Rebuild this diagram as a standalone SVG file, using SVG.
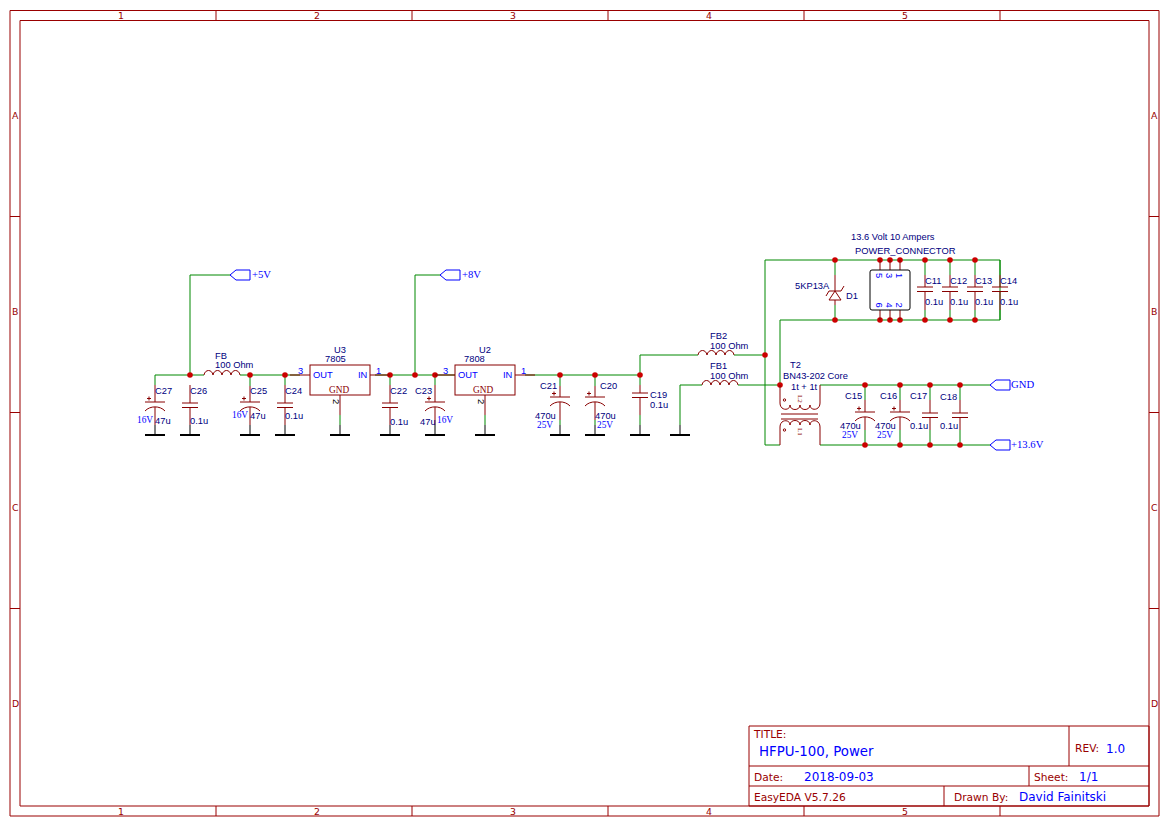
<svg xmlns="http://www.w3.org/2000/svg" width="1169" height="826" viewBox="0 0 1169 826">
<style>
text{font-family:"Liberation Sans",Arial,sans-serif;font-size:9.33px;fill:#000080}
.f{font-family:"DejaVu Sans",Verdana,sans-serif;font-size:9.33px;fill:#990000}
.tr{font-family:"DejaVu Sans",Verdana,sans-serif;font-size:10.67px;fill:#990000}
.tb{font-family:"DejaVu Sans",Verdana,sans-serif;font-size:12px;fill:#0000ff}
.ser{font-family:"Liberation Serif","Times New Roman",serif;fill:#0000ff}
.net{font-family:"Liberation Serif","Times New Roman",serif;font-size:10.67px;fill:#0000ff}
.pn{fill:#0000ff}
.gn{font-family:"Liberation Serif","Times New Roman",serif;fill:#8b0000}
.frame{fill:none;stroke:#990000;stroke-width:1}
.w{fill:none;stroke:#008800;stroke-width:1}
.p{fill:none;stroke:#880000;stroke-width:1}
.g{fill:none;stroke:#000;stroke-width:1}
.b{fill:none;stroke:#000;stroke-width:2}
.flag{fill:none;stroke:#0000ff;stroke-width:1}
.box{fill:#fff;stroke:#880000;stroke-width:1}
.j{fill:#cc0000}
.lt{font-family:"Liberation Serif","Times New Roman",serif;font-size:7px;fill:#8b0000}
</style>
<defs>
<g id="np"><path class="p" d="M-8 0H8M-8 4.500H8"/></g>
<g id="pol"><path class="p" d="M-10 0H10M-10 9C-5 3.500 5 3.500 10 9M-8 -3.500H-4M-6 -5.500V-1.500"/></g>
<g id="gnd"><path class="g" d="M0 -10V0"/><path class="b" d="M-10 0H10"/></g>
<g id="ind"><path class="p" d="M0 0C1 -6 8 -6 9 0C10 -6 17 -6 18 0C19 -6 26 -6 27 0C28 -6 35 -6 36 0"/></g>
<circle id="dot" class="j" r="2.800"/>
<path id="flag" class="flag" d="M0 0L6 -5H20V5H6Z"/>
</defs>
<rect width="1169" height="826" fill="#fff"/>

<g id="frame">
<path class="frame" d="M10 10.500H1159V816H10ZM20 20.500H1149V806H20Z"/>
<path class="frame" d="M216 10.500V20.500M412 10.500V20.500M608 10.500V20.500M804 10.500V20.500M1000 10.500V20.500M216 806V816M412 806V816M608 806V816M804 806V816M1000 806V816M10 216.500H20M10 412.500H20M10 608.500H20M1149 216.500H1159M1149 412.500H1159M1149 608.500H1159"/>
<text class="f" x="118" y="19">1</text><text class="f" x="314" y="19">2</text><text class="f" x="510" y="19">3</text><text class="f" x="706" y="19">4</text><text class="f" x="902" y="19">5</text>
<text class="f" x="118" y="815">1</text><text class="f" x="314" y="815">2</text><text class="f" x="510" y="815">3</text><text class="f" x="706" y="815">4</text><text class="f" x="902" y="815">5</text>
<text class="f" x="12" y="119">A</text><text class="f" x="12" y="315">B</text><text class="f" x="12" y="511">C</text><text class="f" x="12" y="707">D</text>
<text class="f" x="1151" y="119">A</text><text class="f" x="1151" y="315">B</text><text class="f" x="1151" y="511">C</text><text class="f" x="1151" y="707">D</text>
</g>

<g id="title-block">
<path class="frame" d="M749 726H1149V806H749ZM749 766H1149M749 786H1149M1069 726V766M1029 766V786M944 786V806"/>
<text class="tr" x="754" y="738">TITLE:</text>
<text x="759" y="756" style="font-family:'DejaVu Sans',sans-serif;font-size:13.33px;fill:#0000ff">HFPU-100, Power</text>
<text class="tr" x="1075" y="752">REV:</text><text x="1106" y="753" style="font-family:'DejaVu Sans',sans-serif;font-size:12px;fill:#0000ff">1.0</text>
<text class="tr" x="754" y="781">Date:</text><text class="tb" x="804" y="781">2018-09-03</text>
<text class="tr" x="1034" y="781">Sheet:</text><text class="tb" x="1079" y="781">1/1</text>
<text class="tr" x="754" y="801">EasyEDA V5.7.26</text>
<text class="tr" x="954" y="801">Drawn By:</text><text class="tb" x="1019" y="801">David Fainitski</text>
</g>

<g id="connectors">
<path class="w" d="M155 385V375H204M240 375H300M190 375V275H230"/>
<path class="w" d="M375 375H455M415 375V275H440M525 375H640V355H698M734 355H765M640 375V385M560 375V386M595 375V386M390 375V385M435 375V385M250 375V386M285 375V385"/>
<path class="w" d="M680 425V385H702M738 385H780"/>
<path class="w" d="M765 445V260H1000V320H780V385M765 445H780M820 385H990M820 445H990"/>
<path class="w" d="M835 260V275M835 305V320M925 260V275M950 260V275M975 260V275M1000 260V275M925 310V320M950 310V320M975 310V320M1000 310V320"/>
<path class="w" d="M865 385V400M900 385V400M930 385V400M960 385V400M865 430V445M900 430V445M930 430V445M960 430V445"/>
<path class="w" d="M340 415V425M485 415V425M560 420V425M595 420V425M640 415V425"/>
<use href="#dot" x="190" y="375"/><use href="#dot" x="250" y="375"/><use href="#dot" x="285" y="375"/>
<use href="#dot" x="390" y="375"/><use href="#dot" x="415" y="375"/><use href="#dot" x="435" y="375"/>
<use href="#dot" x="560" y="375"/><use href="#dot" x="595" y="375"/><use href="#dot" x="640" y="375"/>
<use href="#dot" x="765" y="355"/><use href="#dot" x="780" y="385"/>
<use href="#dot" x="835" y="260"/><use href="#dot" x="880" y="260"/><use href="#dot" x="890" y="260"/><use href="#dot" x="900" y="260"/><use href="#dot" x="925" y="260"/><use href="#dot" x="950" y="260"/><use href="#dot" x="975" y="260"/>
<use href="#dot" x="835" y="320"/><use href="#dot" x="880" y="320"/><use href="#dot" x="890" y="320"/><use href="#dot" x="900" y="320"/><use href="#dot" x="925" y="320"/><use href="#dot" x="950" y="320"/><use href="#dot" x="975" y="320"/>
<use href="#dot" x="865" y="385"/><use href="#dot" x="900" y="385"/><use href="#dot" x="930" y="385"/><use href="#dot" x="960" y="385"/>
<use href="#dot" x="865" y="445"/><use href="#dot" x="900" y="445"/><use href="#dot" x="930" y="445"/><use href="#dot" x="960" y="445"/>
</g>

<g id="net-5v"><use href="#flag" x="230" y="275"/><text class="net" x="252" y="278">+5V</text></g>
<g id="net-8v"><use href="#flag" x="440" y="275"/><text class="net" x="462" y="278">+8V</text></g>
<g id="net-gnd"><use href="#flag" x="990" y="385"/><text class="net" x="1011" y="388">GND</text></g>
<g id="net-13v6"><use href="#flag" x="990" y="445"/><text class="net" x="1011" y="448">+13.6V</text></g>

<g id="gnd-symbols">
<use href="#gnd" x="155" y="435"/><use href="#gnd" x="190" y="435"/><use href="#gnd" x="250" y="435"/><use href="#gnd" x="285" y="435"/><use href="#gnd" x="340" y="435"/><use href="#gnd" x="390" y="435"/><use href="#gnd" x="435" y="435"/><use href="#gnd" x="485" y="435"/><use href="#gnd" x="560" y="435"/><use href="#gnd" x="595" y="435"/><use href="#gnd" x="640" y="435"/><use href="#gnd" x="680" y="435"/>
</g>

<g id="C27"><path class="p" d="M155 385V402M155 407V425"/><use href="#pol" x="155" y="402"/><text x="155" y="394">C27</text><text x="155" y="424">47u</text><text class="ser" x="137" y="423">16V</text></g>
<g id="C26"><path class="p" d="M190 385V403M190 407V425"/><use href="#np" x="190" y="403"/><text x="190" y="394">C26</text><text x="190" y="424">0.1u</text></g>
<g id="FB"><use href="#ind" x="204" y="375"/><text x="215" y="359">FB</text><text x="215" y="368">100 Ohm</text></g>
<g id="C25"><path class="p" d="M250 386V402M250 407V425"/><use href="#pol" x="250" y="402"/><text x="250" y="394">C25</text><text x="250" y="419">47u</text><text class="ser" x="232" y="418">16V</text></g>
<g id="C24"><path class="p" d="M285 385V403M285 407V425"/><use href="#np" x="285" y="403"/><text x="285" y="394">C24</text><text x="285" y="419">0.1u</text></g>
<g id="U3"><path class="p" d="M290 375H310M370 375H390M340 395V415"/><rect class="box" x="310" y="365" width="60" height="30"/><text x="334" y="353">U3</text><text x="325" y="362">7805</text><text class="pn" x="313" y="378">OUT</text><text class="pn" x="358" y="378">IN</text><text class="gn" x="329" y="393">GND</text><text class="pn" x="298" y="374">3</text><text class="pn" x="376" y="374">1</text><text transform="translate(333 399) rotate(90)" style="fill:#000">2</text></g>
<g id="C22"><path class="p" d="M390 385V403M390 407V425"/><use href="#np" x="390" y="403"/><text x="390" y="394">C22</text><text x="390" y="425">0.1u</text></g>
<g id="C23"><path class="p" d="M435 385V402M435 407V425"/><use href="#pol" x="435" y="402"/><text x="415" y="394">C23</text><text x="420" y="425">47u</text><text class="ser" x="437" y="423">16V</text></g>
<g id="U2"><path class="p" d="M435 375H455M515 375H535M485 395V415"/><rect class="box" x="455" y="365" width="60" height="30"/><text x="479" y="353">U2</text><text x="464" y="362">7808</text><text class="pn" x="458" y="378">OUT</text><text class="pn" x="503" y="378">IN</text><text class="gn" x="473" y="393">GND</text><text class="pn" x="443" y="374">3</text><text class="pn" x="521" y="374">1</text><text transform="translate(478 399) rotate(90)" style="fill:#000">2</text></g>
<g id="C21"><path class="p" d="M560 386V397M560 402V420"/><use href="#pol" x="560" y="397"/><text x="540" y="389">C21</text><text x="535" y="419">470u</text><text class="ser" x="537" y="428">25V</text></g>
<g id="C20"><path class="p" d="M595 386V397M595 402V420"/><use href="#pol" x="595" y="397"/><text x="600" y="389">C20</text><text x="595" y="419">470u</text><text class="ser" x="597" y="428">25V</text></g>
<g id="C19"><path class="p" d="M640 385V393M640 397V415"/><use href="#np" x="640" y="393"/><text x="650" y="398">C19</text><text x="650" y="408">0.1u</text></g>
<g id="FB2"><use href="#ind" x="698" y="355"/><text x="710" y="339">FB2</text><text x="710" y="349">100 Ohm</text></g>
<g id="FB1"><use href="#ind" x="702" y="385"/><text x="710" y="369">FB1</text><text x="710" y="379">100 Ohm</text></g>
<g id="T2">
<path class="p" d="M780 385V403C780 411 790 411 790 405C790 411 800 411 800 405C800 411 810 411 810 405C810 411 820 411 820 403V385"/>
<path class="p" d="M781 414H818M781 419H818"/>
<path class="p" d="M780 445V427C780 419 790 419 790 425C790 419 800 419 800 425C800 419 810 419 810 425C810 419 820 419 820 427V445"/>
<circle class="p" cx="784.500" cy="400" r="1.200"/><circle class="p" cx="784.500" cy="430" r="1.200"/>
<text class="lt" transform="translate(798 395) rotate(90)">L2</text>
<text class="lt" transform="translate(798 428) rotate(90)">L1</text>
<text x="790" y="368">T2</text><text x="783" y="379">BN43-202 Core</text><text x="791" y="390">1t + 1t</text>
</g>
<g id="D1"><path class="p" d="M835 275V291M835 300V305M829 300H841L835 291ZM826 296L829 291H841L844 286"/><text x="795" y="289">5KP13A</text><text x="846" y="299">D1</text></g>
<g id="POWER_CONNECTOR"><path class="p" d="M880 260V270M890 260V270M900 260V270M880 310V320M890 310V320M900 310V320"/><rect x="870" y="270" width="40" height="40" rx="2" fill="#fff" stroke="#000"/>
<text class="pn" transform="translate(876 273) rotate(90)">5</text><text class="pn" transform="translate(886 273) rotate(90)">3</text><text class="pn" transform="translate(896 273) rotate(90)">1</text>
<text class="pn" transform="translate(876 302.500) rotate(90)">6</text><text class="pn" transform="translate(886 302.500) rotate(90)">4</text><text class="pn" transform="translate(896 302.500) rotate(90)">2</text>
<text x="851" y="240">13.6 Volt 10 Ampers</text><text x="855" y="254">POWER_CONNECTOR</text></g>
<g id="C11"><path class="p" d="M925 275V287M925 292V310"/><use href="#np" x="925" y="287"/><text x="925" y="284">C11</text><text x="925" y="305">0.1u</text></g>
<g id="C12"><path class="p" d="M950 275V287M950 292V310"/><use href="#np" x="950" y="287"/><text x="950" y="284">C12</text><text x="950" y="305">0.1u</text></g>
<g id="C13"><path class="p" d="M975 275V287M975 292V310"/><use href="#np" x="975" y="287"/><text x="975" y="284">C13</text><text x="975" y="305">0.1u</text></g>
<g id="C14"><path class="p" d="M1000 275V287M1000 292V310"/><use href="#np" x="1000" y="287"/><text x="1000" y="284">C14</text><text x="1000" y="305">0.1u</text></g>
<g id="C15"><path class="p" d="M865 400V412M865 417V430"/><use href="#pol" x="865" y="412"/><text x="845" y="399">C15</text><text x="840" y="429">470u</text><text class="ser" x="842" y="438">25V</text></g>
<g id="C16"><path class="p" d="M900 400V412M900 417V430"/><use href="#pol" x="900" y="412"/><text x="880" y="399">C16</text><text x="875" y="429">470u</text><text class="ser" x="877" y="438">25V</text></g>
<g id="C17"><path class="p" d="M930 400V413M930 417V430"/><use href="#np" x="930" y="413"/><text x="910" y="399">C17</text><text x="910" y="429">0.1u</text></g>
<g id="C18"><path class="p" d="M960 400V413M960 417V430"/><use href="#np" x="960" y="413"/><text x="940" y="400">C18</text><text x="940" y="429">0.1u</text></g>
</svg>
